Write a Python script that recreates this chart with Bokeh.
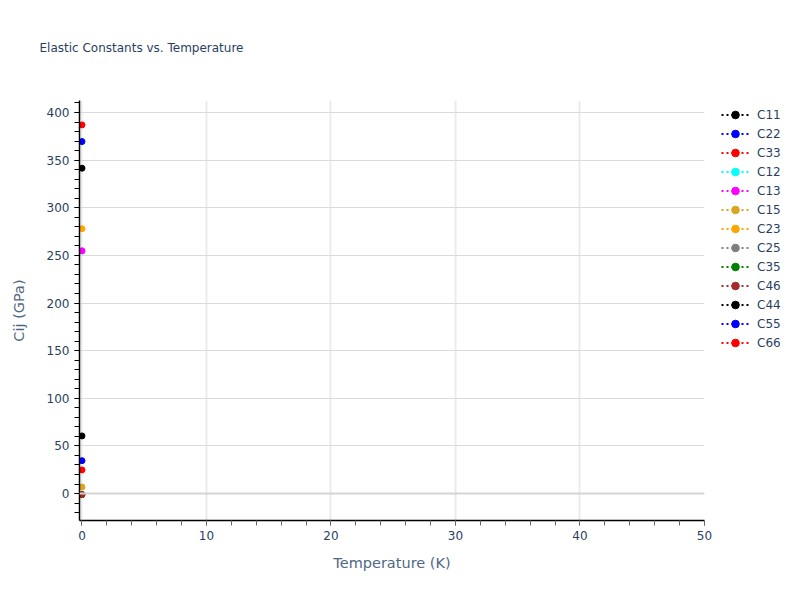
from bokeh.plotting import figure
from bokeh.models import Legend, LegendItem, Span, SingleIntervalTicker, Range1d, Title
from bokeh.embed import file_html
from bokeh.resources import INLINE

# one temperature, one value per constant
temperature = [0]
names = ['C11', 'C22', 'C33', 'C12', 'C13', 'C15', 'C23', 'C25', 'C35', 'C46', 'C44', 'C55', 'C66']
values = [341.5, 369.5, 387.0, 254.5, 254.8, 6.8, 278.0, -1.0, -1.2, -1.0, 60.5, 34.5, 24.8]
colors = ['black', 'blue', 'red', 'cyan', 'magenta', 'goldenrod', 'orange', 'gray',
          'green', 'brown', 'black', 'blue', 'red']

font = "DejaVu Sans"
text_color = "#2a3f5f"

def main():
    p = figure(frame_width=625, frame_height=420,
               x_range=Range1d(-0.2, 50), y_range=Range1d(-28.3, 412.6),
               output_backend="svg", toolbar_location=None,
               min_border_left=79, min_border_top=100, min_border_bottom=62, min_border_right=0)
    p.outline_line_color = None

    p.title.text = "Elastic Constants vs. Temperature"
    p.title.text_font = font
    p.title.text_font_style = "normal"
    p.title.text_font_size = "12px"
    p.title.text_color = text_color
    p.title.align = "left"
    p.title.offset = -40
    p.title.standoff = 24
    # blank title between the real one and the frame, to lift the title
    p.add_layout(Title(text=" ", text_font_size="12px", standoff=18), "above")

    # grid
    p.xgrid.grid_line_color = "#ebebeb"
    p.xgrid.grid_line_width = 2
    p.ygrid.grid_line_color = "#dadada"
    p.ygrid.grid_line_width = 1
    p.add_layout(Span(location=0, dimension='width', line_color="#d4d4d4", line_width=2))

    p.xaxis.ticker = SingleIntervalTicker(interval=10, num_minor_ticks=5)
    p.yaxis.ticker = SingleIntervalTicker(interval=50, num_minor_ticks=5)
    for ax in [p.xaxis[0], p.yaxis[0]]:
        ax.axis_line_color = "black"
        ax.axis_line_width = 1.5
        ax.major_tick_in = 0
        ax.minor_tick_in = 0
        ax.major_tick_out = 5
        ax.minor_tick_out = 5
        ax.major_label_text_font = font
        ax.major_label_text_font_size = "12px"
        ax.major_label_text_color = text_color
        ax.axis_label_text_font = font
        ax.axis_label_text_font_size = "14.5px"
        ax.axis_label_text_font_style = "normal"
        ax.axis_label_text_color = "#506784"
    p.xaxis.major_tick_line_color = "#666666"
    p.xaxis.minor_tick_line_color = "#666666"
    p.yaxis.major_tick_line_color = "black"
    p.yaxis.minor_tick_line_color = "black"
    p.xaxis.axis_label = "Temperature (K)"
    p.yaxis.axis_label = "Cij (GPa)"
    p.xaxis.axis_label_standoff = 12
    p.yaxis.axis_label_standoff = 17

    items = []
    for name, val, col in zip(names, values, colors):
        ln = p.line(temperature, [val], line_color=col, line_width=2, line_dash="2 3")
        sc = p.scatter(temperature, [val], size=6, fill_color=col, line_color=col)
        items.append(LegendItem(label=name, renderers=[ln, sc]))

    legend = Legend(items=items, location=(17, 168), orientation="vertical")
    legend.padding = 0
    legend.margin = 0
    legend.spacing = 0
    legend.glyph_width = 28
    legend.glyph_height = 19
    legend.label_height = 19
    legend.label_standoff = 8
    legend.label_text_font = font
    legend.label_text_font_size = "12px"
    legend.label_text_color = text_color
    legend.border_line_color = None
    legend.background_fill_alpha = 0
    p.add_layout(legend, "right")

    open("out.html", "w").write(file_html(p, INLINE))

if __name__ == '__main__':
    main()
